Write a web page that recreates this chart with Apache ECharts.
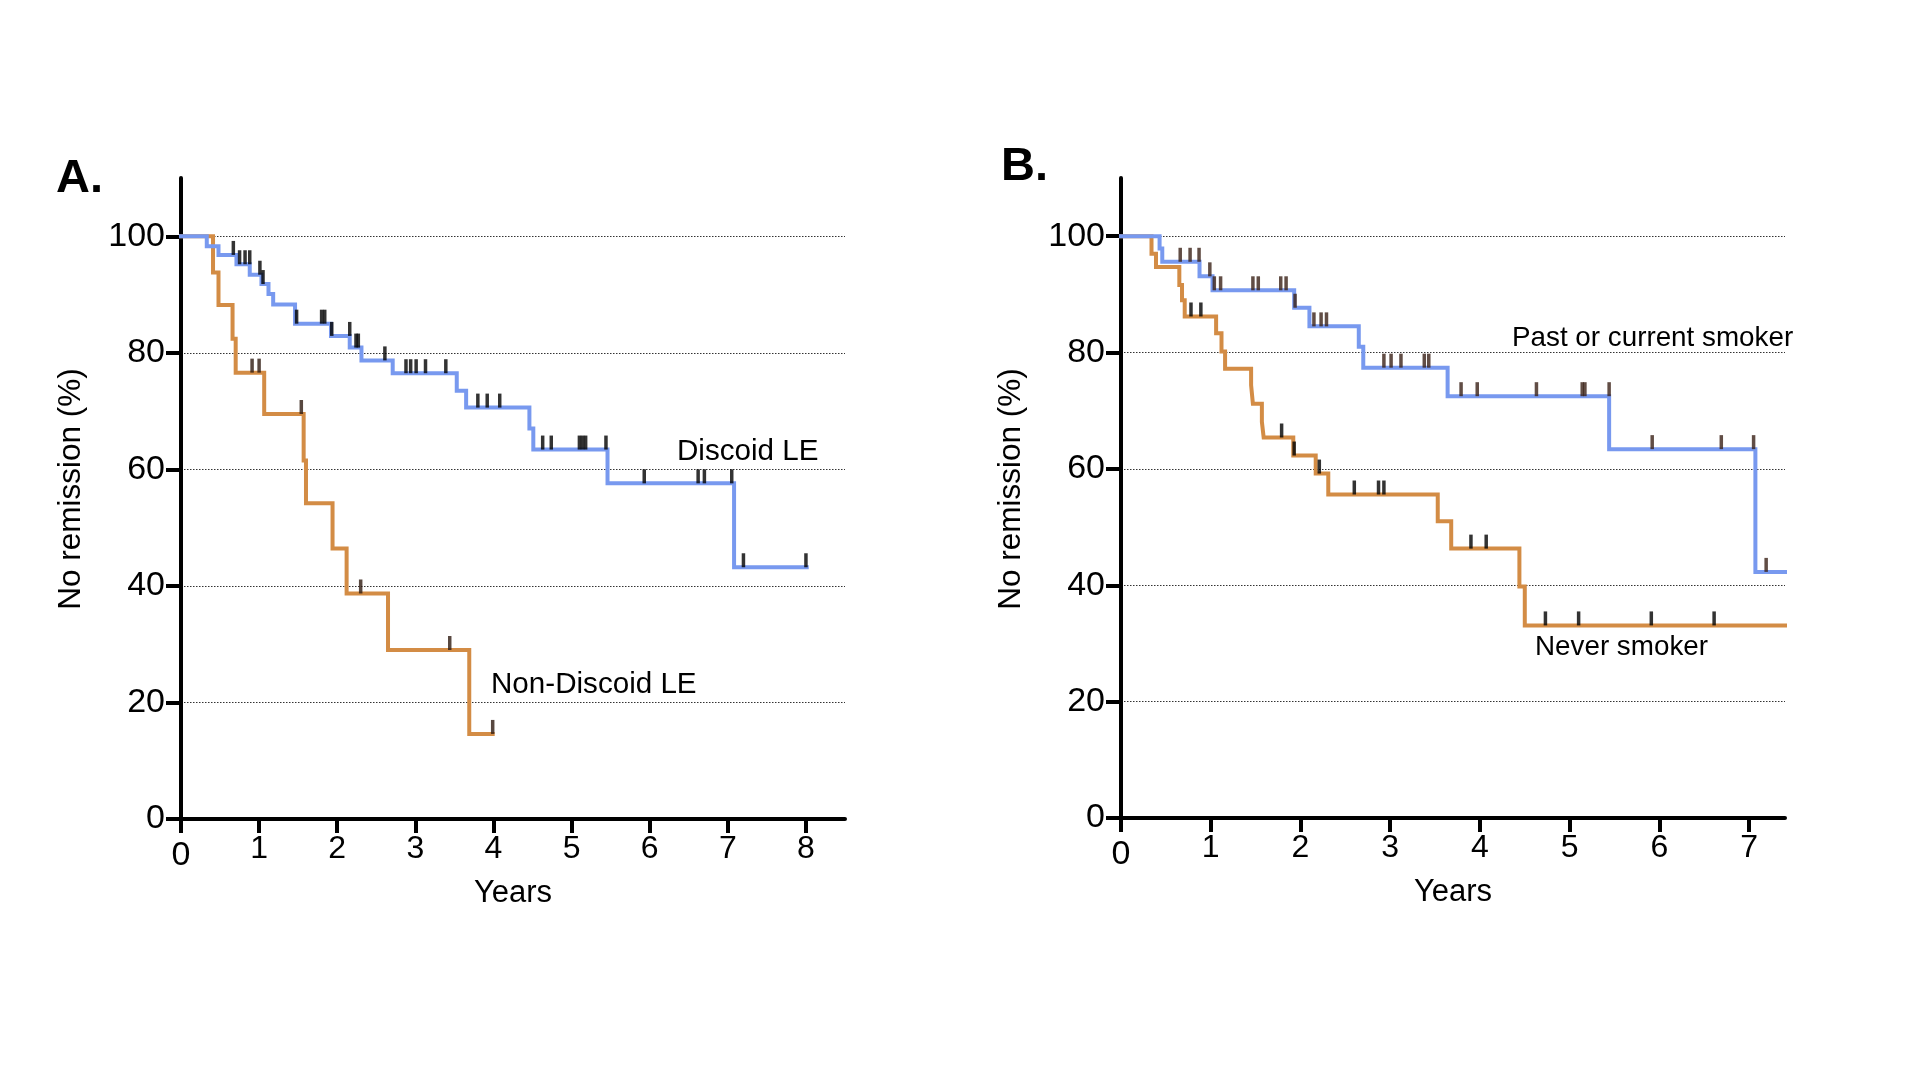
<!DOCTYPE html>
<html>
<head>
<meta charset="utf-8">
<script src="https://cdn.jsdelivr.net/npm/echarts@6/dist/echarts.min.js"></script>
<style>
html,body{margin:0;padding:0;background:#fff;}
#chart{width:1920px;height:1080px;}
</style>
</head>
<body>
<div id="chart"></div>
<script>
// ---------- data ----------
const yTicks = [0, 20, 40, 60, 80, 100];
const xTicksA = [0, 1, 2, 3, 4, 5, 6, 7, 8];
const xTicksB = [0, 1, 2, 3, 4, 5, 6, 7];

// Panel A: Discoid LE (step points [years, % no remission])
const discoidLE = [[0,100],[0.33,98.3],[0.48,96.8],[0.71,95.2],[0.88,93.4],[1.03,91.8],[1.12,90.1],[1.18,88.3],[1.46,85.0],[1.92,82.9],[2.16,80.9],[2.31,78.7],[2.71,76.5],[3.53,73.5],[3.65,70.6],[4.46,67.0],[4.51,63.4],[5.46,57.6],[7.08,43.2],[8.01,43.2]];
const discoidLECensor = [0.67,0.75,0.82,0.88,1.01,1.05,1.48,1.80,1.84,1.93,2.16,2.24,2.27,2.61,2.88,2.94,3.01,3.13,3.39,3.80,3.92,4.08,4.63,4.74,5.10,5.14,5.18,5.44,5.93,6.62,6.70,7.05,7.20,8.0];

// Panel A: Non-Discoid LE
const nonDiscoidLE = [[0,100],[0.41,93.8],[0.48,88.2],[0.66,82.4],[0.70,76.6],[1.065,69.5],[1.57,61.5],[1.60,54.2],[1.94,46.4],[2.12,38.7],[2.65,29.0],[3.69,14.6],[3.99,14.6]];
const nonDiscoidLECensor = [0.91,1.0,1.54,2.30,3.44,3.99];

// Panel B: Past or current smoker
const smoker = [[0,100],[0.43,97.9],[0.46,95.6],[0.875,93.1],[1.02,90.7],[1.93,87.7],[2.10,84.5],[2.65,81.0],[2.70,77.4],[3.64,72.5],[5.44,63.4],[7.07,42.3],[7.40,42.3]];
const smokerCensor = [0.66,0.77,0.87,0.99,1.04,1.11,1.47,1.53,1.78,1.84,1.94,2.15,2.23,2.29,2.93,3.01,3.12,3.38,3.43,3.79,3.97,4.63,5.14,5.17,5.44,5.92,6.69,7.05,7.19];

// Panel B: Never smoker
const neverSmoker = [[0,100],[0.34,97.0],[0.39,94.7],[0.65,91.6],[0.68,89.0],[0.71,86.2],[1.06,83.3],[1.12,80.2],[1.16,77.2],[1.45,74.4],[1.47,71.2],[1.57,68.1],[1.59,65.4],[1.92,62.3],[2.17,59.2],[2.31,55.6],[3.53,51.0],[3.68,46.3],[4.44,39.8],[4.50,33.1],[7.40,33.1]];
const neverSmokerCensor = [0.78,0.89,1.79,1.93,2.21,2.60,2.87,2.93,3.90,4.07,4.73,5.10,5.91,6.61];

// ---------- helpers ----------
const FONT = 'Liberation Sans, Arial, Helvetica, sans-serif';
const BLUE = '#7899ef';
const ORANGE = '#d38c45';

function levelAt(steps, t) {
  let v = steps[0][1];
  for (const p of steps) { if (p[0] < t) v = p[1]; else break; }
  return v;
}
function censorPoints(steps, times) {
  return times.map(t => [t, levelAt(steps, t)]);
}

function xAxisDef(gridIndex, max, ticks) {
  return {
    type: 'value', gridIndex: gridIndex, min: 0, max: max,
    name: 'Years', nameLocation: 'middle', nameGap: 43,
    nameTextStyle: { fontFamily: FONT, fontSize: 31, color: '#000' },
    axisLine: { show: true, onZero: false, lineStyle: { color: '#000', width: 4 } },
    axisTick: { show: true, length: 14, lineStyle: { color: '#000', width: 4 }, customValues: ticks },
    axisLabel: {
      show: true, margin: 14, customValues: ticks,
      fontFamily: FONT, fontSize: 32, color: '#000',
      formatter: v => v === 0 ? '{z|0}' : String(v),
      rich: { z: { fontFamily: FONT, fontSize: 34, color: '#000', padding: [6, 0, 0, 0] } }
    },
    splitLine: { show: false }
  };
}
function yAxisDef(gridIndex) {
  return {
    type: 'value', gridIndex: gridIndex, min: 0, max: 110,
    axisLine: { show: true, onZero: false, lineStyle: { color: '#000', width: 4 } },
    axisTick: { show: true, length: 15, lineStyle: { color: '#000', width: 4 }, customValues: yTicks },
    axisLabel: { show: true, margin: 16, customValues: yTicks, fontFamily: FONT, fontSize: 34, color: '#000' },
    splitLine: { show: true, lineStyle: { color: '#333', width: 1, type: [1.5, 1.5] } }
  };
}
function curve(idx, data, color) {
  return {
    type: 'line', xAxisIndex: idx, yAxisIndex: idx, data: data, step: 'end',
    showSymbol: false, silent: true, z: 3,
    lineStyle: { color: color, width: 4, cap: 'square', join: 'miter' }
  };
}
function ticks(idx, steps, times, color) {
  return {
    type: 'scatter', xAxisIndex: idx, yAxisIndex: idx, data: censorPoints(steps, times),
    symbol: 'rect', symbolSize: [3.5, 14], symbolOffset: [0, -7], silent: true, z: 4,
    itemStyle: { color: color }
  };
}
function txt(text, x, y, size, bold, extra, align) {
  return Object.assign({
    type: 'text', x: x, y: y, silent: true,
    style: { text: text, fontFamily: FONT, fontSize: size, fontWeight: bold ? 'bold' : 'normal',
             fill: '#000', align: align || 'left', verticalAlign: 'middle' }
  }, extra || {});
}

const chart = echarts.init(document.getElementById('chart'), null, { renderer: 'canvas' });
chart.setOption({
  backgroundColor: '#fff',
  animation: false,
  grid: [
    { left: 181, top: 178, width: 664, height: 641 },
    { left: 1121, top: 178, width: 664, height: 640 }
  ],
  xAxis: [ xAxisDef(0, 8.5, xTicksA), xAxisDef(1, 7.4, xTicksB) ],
  yAxis: [ yAxisDef(0), yAxisDef(1) ],
  series: [
    curve(0, nonDiscoidLE, ORANGE),
    curve(0, discoidLE, BLUE),
    ticks(0, discoidLE, discoidLECensor, '#000'),
    ticks(0, nonDiscoidLE, nonDiscoidLECensor, '#2e1a10'),
    curve(1, neverSmoker, ORANGE),
    curve(1, smoker, BLUE),
    ticks(1, smoker, smokerCensor, '#3a2016'),
    ticks(1, neverSmoker, neverSmokerCensor, '#000')
  ],
  graphic: [
    txt('A.', 56, 179, 47, true),
    txt('B.', 1001, 167, 47, true),
    txt('Discoid LE', 677, 452, 29.6, false),
    txt('Non-Discoid LE', 491, 685, 29.6, false),
    txt('Past or current smoker', 1512, 338, 27.8, false),
    txt('Never smoker', 1535, 647, 27.8, false),
    txt('No remission (%)', 71, 489, 31.5, false, { rotation: Math.PI / 2 }, 'center'),
    txt('No remission (%)', 1011, 489, 31.5, false, { rotation: Math.PI / 2 }, 'center')
  ]
});
</script>
</body>
</html>
